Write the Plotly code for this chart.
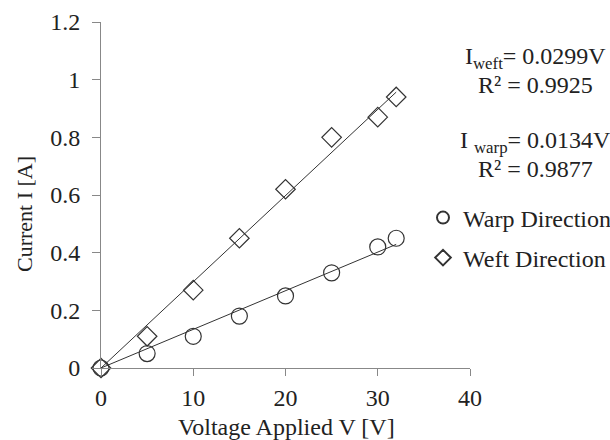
import plotly.graph_objects as go

voltage = [0, 5, 10, 15, 20, 25, 30, 32]
warp_current = [0.0, 0.05, 0.11, 0.18, 0.25, 0.33, 0.42, 0.45]
weft_current = [0.0, 0.11, 0.27, 0.45, 0.62, 0.80, 0.87, 0.94]
weft_slope = 0.0299
warp_slope = 0.0134
fit_v = [0, 32]

FONT = "Liberation Serif, Times New Roman, serif"
INK = "#333333"
TXT = "#222222"
L, R, T, B = 101, 140, 22, 72
PW, PH = 610 - L - R, 440 - T - B

fig = go.Figure()
fig.add_trace(go.Scatter(x=fit_v, y=[weft_slope * v for v in fit_v], mode="lines",
                         line=dict(color=INK, width=1), showlegend=False, hoverinfo="skip"))
fig.add_trace(go.Scatter(x=fit_v, y=[warp_slope * v for v in fit_v], mode="lines",
                         line=dict(color=INK, width=1), showlegend=False, hoverinfo="skip"))
fig.add_trace(go.Scatter(x=voltage, y=warp_current, mode="markers", name="Warp Direction",
                         legend="legend", cliponaxis=False,
                         marker=dict(symbol="circle-open", size=16, color=INK, line=dict(width=1.2))))
fig.add_trace(go.Scatter(x=voltage, y=weft_current, mode="markers", name="Weft Direction",
                         legend="legend2", cliponaxis=False,
                         marker=dict(symbol="diamond-open", size=15, color=INK, line=dict(width=1.2))))

def leg(px_left, py_center):
    return dict(x=(px_left - L) / PW, xanchor="left", y=(440 - B - py_center) / PH, yanchor="middle",
                bgcolor="rgba(0,0,0,0)", itemsizing="constant", itemwidth=30,
                font=dict(family=FONT, size=24, color=TXT), borderwidth=0)

fig.update_layout(
    width=610, height=440,
    margin=dict(l=L, r=R, t=T, b=B, autoexpand=False),
    plot_bgcolor="white", paper_bgcolor="white",
    font=dict(family=FONT, size=24, color=TXT),
    legend=leg(423, 218),
    legend2=leg(423, 258),
    showlegend=True,
)
fig.update_xaxes(range=[0, 40], tickvals=[0, 10, 20, 30, 40], showgrid=False, zeroline=False,
                 showline=True, linecolor="#888", linewidth=1, ticks="outside", ticklen=7,
                 tickcolor="#888", tickfont=dict(size=24), ticklabelstandoff=1)
fig.update_yaxes(range=[0, 1.2], tickvals=[0, 0.2, 0.4, 0.6, 0.8, 1.0, 1.2],
                 ticktext=["0", "0.2", "0.4", "0.6", "0.8", "1", "1.2"],
                 showgrid=False, zeroline=False, showline=True, linecolor="#888", linewidth=1,
                 ticks="outside", ticklen=8, tickcolor="#888", tickfont=dict(size=24),
                 ticklabelstandoff=7)

def px_ann(text, px, py, size=24, **kw):
    fig.add_annotation(text=text, x=(px - L) / PW, y=(440 - B - py) / PH, xref="paper", yref="paper",
                       xanchor="center", yanchor="middle",
                       showarrow=False, font=dict(family=FONT, size=size, color=TXT), **kw)

px_ann("Voltage Applied V [V]", 286, 427)
px_ann("Current I [A]", 25, 214, size=22, textangle=-90)
px_ann("I<sub>weft</sub>= 0.0299V", 535, 58)
px_ann("R² = 0.9925", 535, 85)
px_ann("I <sub>warp</sub>= 0.0134V", 535, 142)
px_ann("R² = 0.9877", 535, 169)

fig.write_html("out.html")
